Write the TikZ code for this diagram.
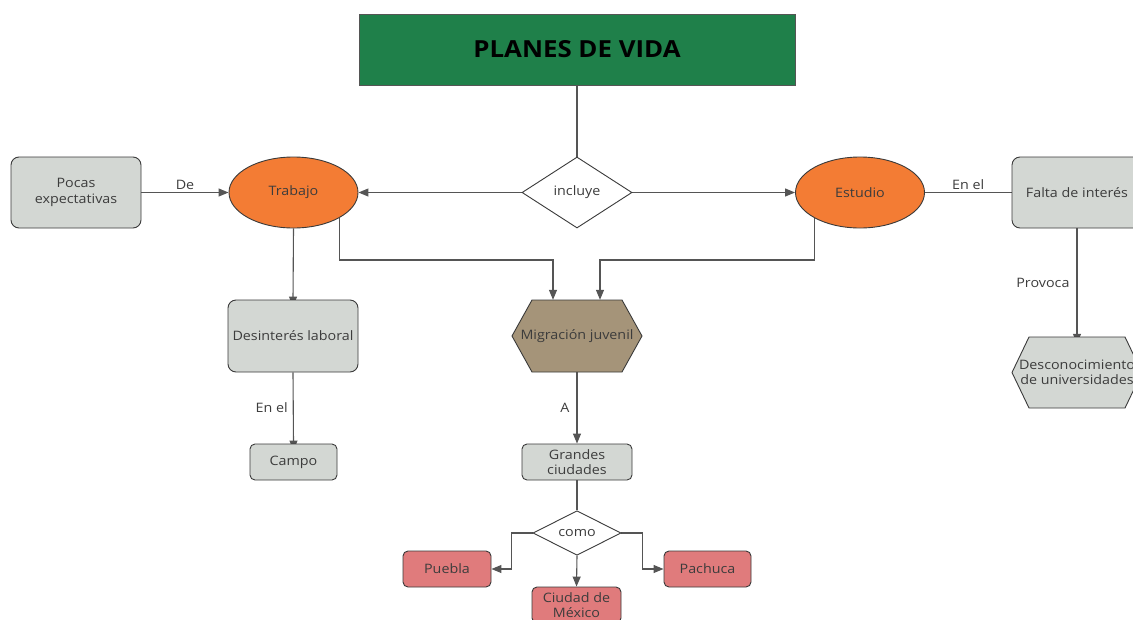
\documentclass[tikz,border=0pt]{standalone}
\usepackage{fontspec}
\setmainfont{Open Sans}[FakeStretch=1.1]
\usetikzlibrary{shapes.geometric,arrows.meta,calc,backgrounds}

\definecolor{titlegreen}{HTML}{1F804A}
\definecolor{orangefill}{HTML}{F37C34}
\definecolor{grayfill}{HTML}{D3D7D3}
\definecolor{tanfill}{HTML}{A59479}
\definecolor{pinkfill}{HTML}{E07B7C}
\definecolor{edgegray}{HTML}{555555}
\definecolor{bordergray}{HTML}{3A3A3A}
\definecolor{textgray}{HTML}{3C3C3C}

\begin{document}
\begin{tikzpicture}[x=1pt,y=-1pt,
  every node/.style={font=\fontsize{13}{15.5}\selectfont, text=textgray, inner sep=0pt, align=center},
  box/.style={draw=bordergray, line width=0.9pt, fill=grayfill, rounded corners=8pt},
  smallbox/.style={draw=bordergray, line width=0.9pt, rounded corners=5pt, minimum height=36pt},
  oval/.style={ellipse, draw=bordergray, line width=0.9pt, fill=orangefill, minimum width=129pt, minimum height=71pt},
  choice/.style={diamond, draw=bordergray, line width=0.9pt, fill=white},
  hexfill/.style={draw=bordergray, line width=0.9pt},
  conn/.style={draw=edgegray, line width=1.1pt},
  arr/.style={conn, -{Triangle[length=10pt,width=8pt]}},
  lbl/.style={font=\fontsize{13}{15.5}\selectfont, text=textgray, inner sep=2pt}
]
\useasboundingbox (0,0) rectangle (1133,619);
\clip (0,0) rectangle (1133,619);

% title
\node[draw=edgegray, line width=0.9pt, fill=titlegreen, minimum width=436pt, minimum height=71pt,
      font=\fontsize{23.5}{28}\selectfont\bfseries, text=black] (pv) at (577,49.5) {PLANES DE VIDA};

% first level
\node[choice, minimum width=110pt, minimum height=71pt] (inc) at (577,192.5) {incluye};
\node[oval] (trab) at (293.5,192.5) {Trabajo};
\node[oval] (est) at (860,192.5) {Estudio};
\node[box, minimum width=130pt, minimum height=71pt] (poc) at (76,192.5) {Pocas\\expectativas};
\node[box, minimum width=130pt, minimum height=71pt] (falta) at (1077,192.5) {Falta de interés};

% second level
\node[box, minimum width=130pt, minimum height=72pt] (des) at (293,336) {Desinterés laboral};
\filldraw[hexfill, fill=tanfill] (512,336) -- (532,300) -- (622,300) -- (642,336) -- (622,372) -- (532,372) -- cycle;
\node[minimum width=130pt, minimum height=72pt] (mig) at (577,336) {Migración juvenil};
\filldraw[hexfill, fill=grayfill] (1012,372.5) -- (1029,337) -- (1125,337) -- (1142,372.5) -- (1125,408) -- (1029,408) -- cycle;
\node[minimum width=130pt, minimum height=71pt] (desc) at (1077,372.5) {Desconocimiento\\de universidades};

% third level
\node[smallbox, fill=grayfill, minimum width=87pt] (campo) at (293.5,462) {Campo};
\node[smallbox, fill=grayfill, minimum width=110pt] (gc) at (577,462) {Grandes\\ciudades};
\node[choice, minimum width=88pt, minimum height=36pt] (como) at (577,533) {como};
\node[smallbox, fill=pinkfill, minimum width=88pt] (pue) at (447,569) {Puebla};
\node[smallbox, fill=pinkfill, minimum width=87pt] (pach) at (707.5,569) {Pachuca};
\node[smallbox, fill=pinkfill, minimum width=89pt] (cdmx) at (576.5,605) {Ciudad de\\México};

\coordinate (jl) at (553,260);
\coordinate (jr) at (600,260);

\begin{scope}[on background layer]
  \draw[conn] (pv.south) -- (inc.north);
  \draw[arr] (inc.west) -- (trab.east);
  \draw[arr] (inc.east) -- (est.west);
  \draw[arr] (poc.east) -- node[lbl, above] {De} (trab.west);
  \draw[conn] (est.east) -- node[lbl, above] {En el} (falta.west);
  \draw[arr, shorten >=-7pt] (falta.south) -- node[lbl, left=5pt] {Provoca} (desc.north);
  \draw[arr, shorten >=-7pt] (trab.south) -- (des.north);
  \draw[arr, shorten >=-7pt] (des.south) -- node[lbl, left=3pt] {En el} (campo.north);
  \draw[arr] (trab.south east) |- (jl) -- (jl |- mig.north);
  \draw[arr] (est.south west) |- (jr) -- (jr |- mig.north);
  \draw[arr] (mig.south) -- node[lbl, left=5pt] {A} (gc.north);
  \draw[conn] (gc.south) -- (como.north);
  \draw[arr] (como.west) -- ++(-21,0) |- (pue.east);
  \draw[arr] (como.east) -- ++(21,0) |- (pach.west);
  \draw[arr] (como.south) -- (cdmx.north);
\end{scope}
\end{tikzpicture}
\end{document}
